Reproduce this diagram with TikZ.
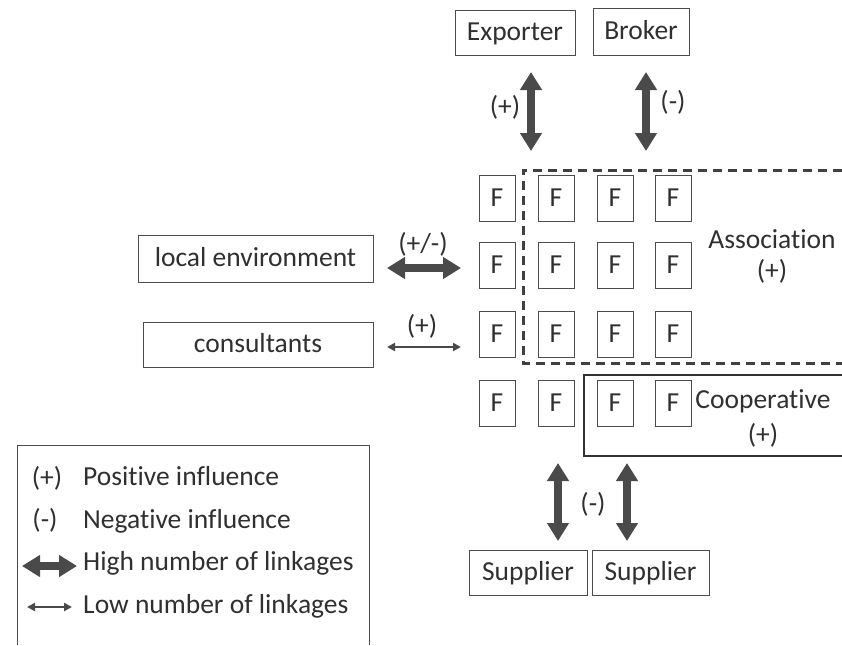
\documentclass[tikz,border=0pt]{standalone}
\usepackage{fontspec}
\setmainfont{Carlito}[Ligatures=NoCommon]
\usetikzlibrary{arrows.meta}
\definecolor{ink}{HTML}{303030}
\definecolor{arr}{HTML}{4A4A4A}
\begin{document}
\begin{tikzpicture}[x=1pt,y=-1pt,
  every node/.style={font=\fontsize{27.5}{32}\selectfont, text=ink},
  box/.style={draw=black!70, line width=1pt, inner sep=0pt, text height=18pt, text depth=2pt},
  fbox/.style={box, minimum width=36pt, minimum height=46pt},
  lbl/.style={inner sep=0pt},
  bigarrow/.style={draw=arr, line width=8.5pt, {Triangle[width=21pt,length=18pt]}-{Triangle[width=21pt,length=18pt]}},
  smallarrow/.style={draw=arr, line width=2pt, {Triangle[width=8pt,length=8pt]}-{Triangle[width=8pt,length=8pt]}},
  assocline/.style={draw=black!75, line width=3pt, dash pattern=on 9pt off 6pt},
  coopline/.style={draw=black!80, line width=1.4pt},
  legendline/.style={draw=black!70, line width=1pt},
]
\fill[white] (0,0) rectangle (842,645);
\useasboundingbox (0,0) rectangle (842,645);

% top partners
\node[box, minimum width=120pt, minimum height=45pt] (exporter) at (515,32.5) {Exporter};
\node[box, minimum width=96pt, minimum height=47pt] (broker) at (641,31.5) {Broker};
% left partners
\node[box, minimum width=235pt, minimum height=47pt] (localenv) at (255.5,258.5) {local environment};
\node[box, minimum width=230pt, minimum height=45pt] (consult) at (258,344.5) {consultants};
% suppliers
\node[box, minimum width=118pt, minimum height=45pt] (supA) at (528,572.5) {Supplier};
\node[box, minimum width=117pt, minimum height=45pt] (supB) at (650.5,572.5) {Supplier};

% firms
\foreach \xx [count=\c] in {497,556,615,673}
  \foreach \yy [count=\r] in {198.5,265.5,334.5,403}
    \node[fbox] (f\r\c) at (\xx,\yy) {F};

% association (dashed) and cooperative (solid)
\draw[assocline] (842,170) -- (523,170) -- (523,363) -- (842,363);
\draw[coopline] (842,375) -- (584,375) -- (584,456) -- (842,456);
\node[lbl, anchor=base] (assoc) at (772,248) {Association};
\node[lbl] (assocsign) at (772,271) {(+)};
\node[lbl, anchor=base] (coop) at (763,408) {Cooperative};
\node[lbl] (coopsign) at (763,435) {(+)};

% connectors
\coordinate (ex1) at (531,72);  \coordinate (ex2) at (531,151);
\coordinate (br1) at (646,72);  \coordinate (br2) at (646,151);
\coordinate (le1) at (387,268); \coordinate (le2) at (461,268);
\coordinate (co1) at (387,347); \coordinate (co2) at (461,347);
\coordinate (sa1) at (558,463); \coordinate (sa2) at (558,541);
\coordinate (sb1) at (627,463); \coordinate (sb2) at (627,541);
\draw[bigarrow] (ex1) -- (ex2);
\draw[bigarrow] (br1) -- (br2);
\draw[bigarrow] (le1) -- (le2);
\draw[smallarrow] (co1) -- (co2);
\draw[bigarrow] (sa1) -- (sa2);
\draw[bigarrow] (sb1) -- (sb2);

% connector labels
\node[lbl] (exsign) at (505,107) {(+)};
\node[lbl] (brsign) at (673,102) {(-)};
\node[lbl] (lesign) at (423,244) {(+/-)};
\node[lbl] (cosign) at (422,326) {(+)};
\node[lbl] (susign) at (593,504) {(-)};

% legend
\draw[legendline] (17,645) -- (17,445) -- (369,445) -- (369,645);
\node[lbl] (lg1s) at (47,478) {(+)};
\node[lbl] (lg2s) at (45,520) {(-)};
\node[lbl, anchor=base west] (lg1) at (83,485) {Positive influence};
\node[lbl, anchor=base west] (lg2) at (83,528) {Negative influence};
\node[lbl, anchor=base west] (lg3) at (83,570) {High number of linkages};
\node[lbl, anchor=base west] (lg4) at (83,613) {Low number of linkages};
\coordinate (lh1) at (22,566); \coordinate (lh2) at (77,566);
\coordinate (ll1) at (27,607); \coordinate (ll2) at (72,607);
\draw[bigarrow] (lh1) -- (lh2);
\draw[smallarrow] (ll1) -- (ll2);
\end{tikzpicture}
\end{document}
